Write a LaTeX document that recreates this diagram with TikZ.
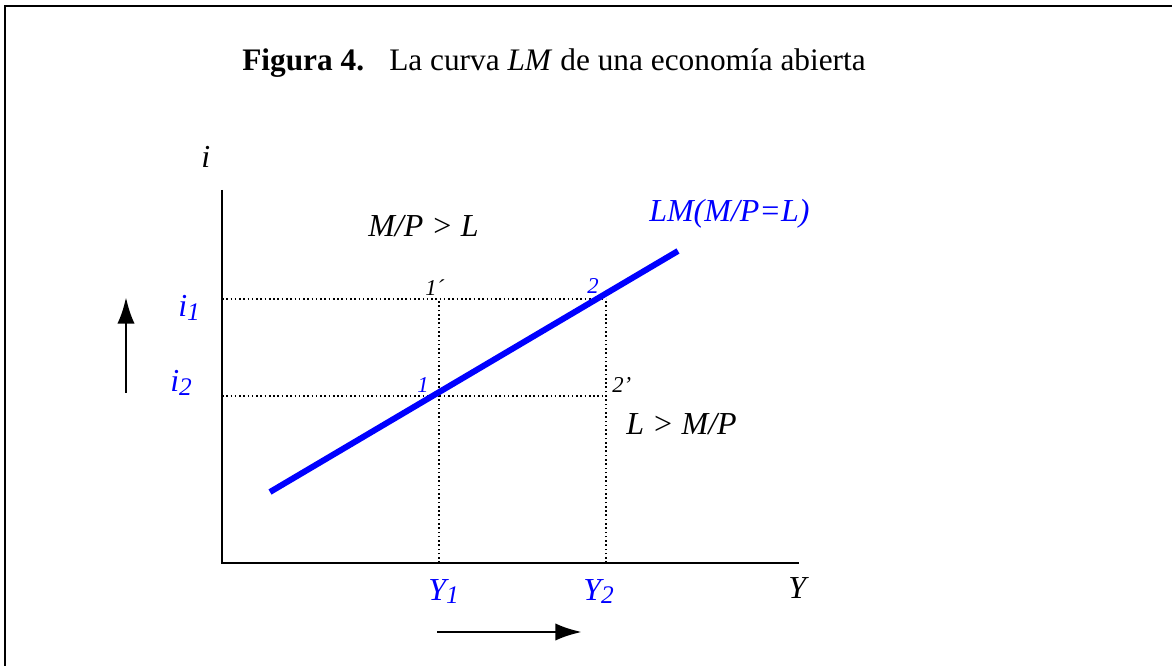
\documentclass[tikz,border=0pt]{standalone}
\usepackage{fontspec}
\setmainfont{Liberation Serif}
\usetikzlibrary{positioning,arrows.meta}
\definecolor{lmblue}{RGB}{0,0,255}
% small lowered index, as in i1, Y1
\newcommand{\lowidx}[1]{\raisebox{-0.25ex}{\fontsize{19}{19}\selectfont #1}}
\tikzset{
  lab/.style={anchor=base west, inner sep=0pt, font=\fontsize{24}{28}\selectfont\itshape},
  tag/.style={anchor=base west, inner sep=0pt, font=\fontsize{17}{19}\selectfont\itshape},
  guide/.style={line width=1.2pt, dash pattern=on 1.2pt off 2pt},
  shiftarrow/.style={line width=2.2pt, -{Latex[length=20pt,width=13pt]}}
}
\begin{document}
\begin{tikzpicture}[x=0.75pt, y=-0.75pt, line join=miter]
  \useasboundingbox (0,0) rectangle (1172,666);
  % frame (left and top only)
  \draw[line width=1.8pt] (5,666) -- (5,6) -- (1172,6);

  % title
  \node[anchor=base west, inner sep=0pt, font=\fontsize{23.5}{28}\selectfont\bfseries] (fig) at (242,71) {Figura 4.};
  \node[anchor=base west, inner sep=0pt, font=\fontsize{23.5}{28}\selectfont] (ttl) at (389,71) {La curva \textit{LM} de una economía abierta};

  % axes
  \coordinate (O) at (222,563);
  \coordinate (ytop) at (222,190);
  \coordinate (xend) at (799,563);
  \draw[line width=1.4pt] (ytop) -- (O) -- (xend);

  % levels
  \coordinate (a1) at (222,299);  % i1 on axis
  \coordinate (a2) at (222,396);  % i2 on axis
  \coordinate (b1) at (439,563);  % Y1 on axis
  \coordinate (b2) at (606,563);  % Y2 on axis
  \coordinate (p1) at (439,396);  % point 1
  \coordinate (q1) at (439,299);  % point 1'
  \coordinate (p2) at (606,299);  % point 2
  \coordinate (q2) at (606,396);  % point 2'
  \draw[guide] (a1) -- (q1) -- (p2);
  \draw[guide] (a2) -- (p1) -- (q2);
  \draw[guide] (b1) -- (p1) -- (q1);
  \draw[guide] (b2) -- (q2) -- (p2);

  % LM curve
  \coordinate (lmA) at (270,492);
  \coordinate (lmB) at (678,251);
  \draw[lmblue, line width=4.5pt] (lmA) -- (lmB);

  % labels
  \node[lab] (iax) at (201,168) {i};
  \node[lab] (Yax) at (788,599) {Y};
  \node[lab] (zoneA) at (368,237) {M/P > L};
  \node[lab] (zoneB) at (626,435) {L > M/P};
  \node[lab, text=lmblue] (lmlab) at (649,222) {LM(M/P=L)};
  \node[lab, text=lmblue] (i1) at (178,317) {i\lowidx{1}};
  \node[lab, text=lmblue] (i2) at (170,392) {i\lowidx{2}};
  \node[lab, text=lmblue] (Y1) at (428,600) {Y\lowidx{1}};
  \node[lab, text=lmblue] (Y2) at (583,600) {Y\lowidx{2}};
  \node[tag] (t1q) at (425,296) {1´};
  \node[tag, text=lmblue] (t2) at (587,294) {2};
  \node[tag, text=lmblue] (t1) at (417,393) {1};
  \node[tag] (t2q) at (612,393) {2’};

  % shift arrows
  \coordinate (upS) at (126,393);
  \coordinate (upE) at (126,297);
  \coordinate (rtS) at (437,632);
  \coordinate (rtE) at (582,632);
  \draw[shiftarrow] (upS) -- (upE);
  \draw[shiftarrow] (rtS) -- (rtE);
\end{tikzpicture}
\end{document}
